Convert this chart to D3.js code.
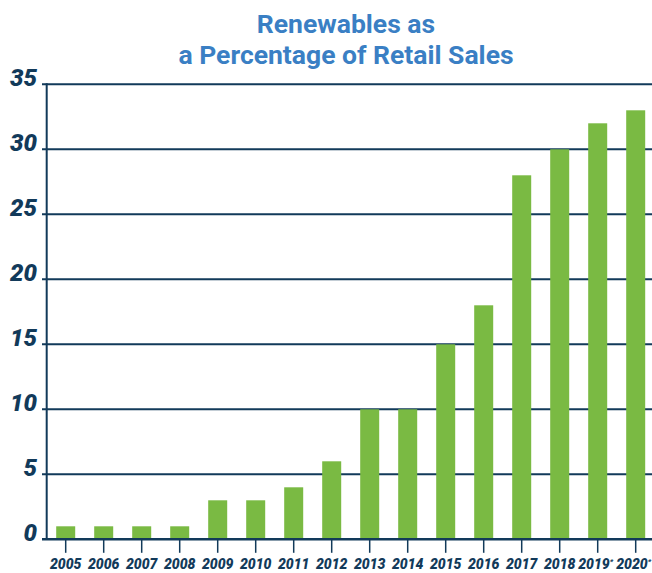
<!DOCTYPE html>
<html><head><meta charset="utf-8">
<script src="https://cdn.jsdelivr.net/npm/d3@7/dist/d3.min.js"></script>
<style>body{margin:0;background:#fff}svg{display:block}</style>
</head><body><svg id="c" width="652" height="573"></svg>
<script>
const years = ["2005","2006","2007","2008","2009","2010","2011","2012","2013","2014","2015","2016","2017","2018","2019","2020"];
const starred = ["2019","2020"];
const values = [1,1,1,1,3,3,4,6,10,10,15,18,28,30,32,33];
const yTicks = [0,5,10,15,20,25,30,35];

const navy = "#123a5a", green = "#7aba43", blue = "#3a7fc4";
const svg = d3.select("#c");
const x = d3.scaleBand().domain(years).range([46.7, 654.7]).paddingInner(0.5).paddingOuter(0.25);
const y = d3.scaleLinear().domain([0,35]).range([539.3, 84.3]);

// title
svg.append("text").attr("x",346).attr("y",33).attr("text-anchor","middle")
  .attr("font-family","Roboto").attr("font-weight","bold").attr("font-size",26.5).attr("fill",blue)
  .text("Renewables as");
svg.append("text").attr("x",346).attr("y",64).attr("text-anchor","middle")
  .attr("font-family","Roboto").attr("font-weight","bold").attr("font-size",26.5).attr("fill",blue)
  .text("a Percentage of Retail Sales");

// gridlines
svg.append("g").selectAll("line").data(yTicks.filter(d=>d>0)).join("line")
  .attr("x1",42).attr("x2",652).attr("y1",d=>y(d)).attr("y2",d=>y(d))
  .attr("stroke",navy).attr("stroke-width",2);

// bars
svg.append("g").selectAll("rect").data(values).join("rect")
  .attr("x",(d,i)=>x(years[i])).attr("width",x.bandwidth())
  .attr("y",d=>y(d)).attr("height",d=>y(0)-y(d)).attr("fill",green);

// y axis line and baseline
svg.append("line").attr("x1",46.7).attr("x2",46.7).attr("y1",y(35)-1).attr("y2",y(0))
  .attr("stroke",navy).attr("stroke-width",2);
svg.append("line").attr("x1",42).attr("x2",652).attr("y1",y(0)).attr("y2",y(0))
  .attr("stroke",navy).attr("stroke-width",2.5);

// y labels
svg.append("g").selectAll("text").data(yTicks).join("text")
  .attr("x",37).attr("y",d=>y(d)+1.5).attr("text-anchor","end")
  .attr("font-family","Roboto").attr("font-weight",900).attr("font-style","italic")
  .attr("font-size",24).attr("fill",navy).text(d=>d);

// x ticks
svg.append("g").selectAll("line").data(years).join("line")
  .attr("x1",d=>x(d)+x.bandwidth()/2).attr("x2",d=>x(d)+x.bandwidth()/2)
  .attr("y1",y(0)).attr("y2",y(0)+13.5).attr("stroke",navy).attr("stroke-width",1.5);

// x labels
const xl = svg.append("g").selectAll("text").data(years).join("text")
  .attr("x",d=>x(d)+x.bandwidth()/2 - (starred.includes(d)?2:0)).attr("y",569)
  .attr("text-anchor","middle")
  .attr("font-family","Roboto").attr("font-weight",900).attr("font-style","italic")
  .attr("font-size",14).attr("fill",navy);
xl.append("tspan").text(d=>d);
xl.filter(d=>starred.includes(d)).append("tspan").attr("font-size",7.5).attr("dy",-5.5).text("*");
</script></body></html>
